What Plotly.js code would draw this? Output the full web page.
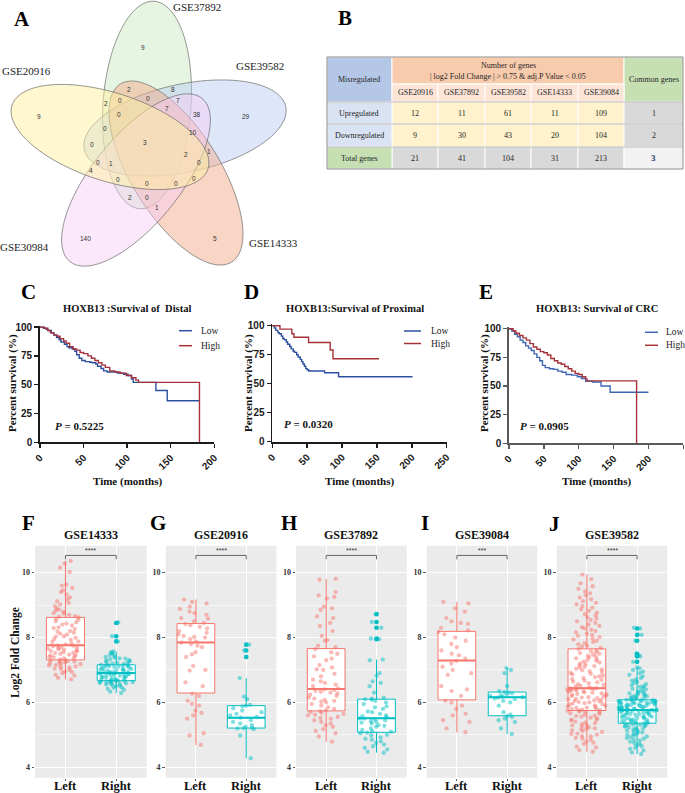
<!DOCTYPE html>
<html><head><meta charset="utf-8">
<script src="https://cdn.plot.ly/plotly-3.0.1.min.js"></script>
<style>body{margin:0;background:#fff}#chart{width:685px;height:793px}</style>
</head><body><div id="chart"></div>
<script>
// ================= DATA =================
// Panel A: Venn
const vennSets = ['GSE37892','GSE39582','GSE14333','GSE30984','GSE20916'];
const vennCounts = [9,29,5,140,9,2,8,2,0,0,7,0,7,38,0,10,0,3,2,1,0,1,0,4,0,0,0,0,2,0,1];
// Panel B: table
const tableDatasets = ['GSE20916','GSE37892','GSE39582','GSE14333','GSE39084'];
const upregulated = [12,11,61,11,109];
const downregulated = [9,30,43,20,104];
const totalGenes = [21,41,104,31,213];
const commonGenes = [1,2,3];
// Panels C-E: Kaplan-Meier (time in months, survival %)
const C_low_t = [0,4,7,9,13,16,19,22,24,28,31,33,37,40,42,45,48,52,57,60,64,66,70,73,77,89,96,101,105,107,133,146,183];
const C_low_s = [100,99,98,97,95,93,91,89,87,85,83,82,81,79,76,73,71,70,69.5,69,68,66,64,62,61,60,59,58,55,52,45,36,36];
const C_high_t = [0,5,9,12,16,20,23,27,30,34,38,42,46,50,55,59,63,67,71,75,80,86,92,99,105,110,113,183];
const C_high_s = [100,99,97,95,93,92,90,88,86,83,81,80,78,77,75,73,71,69,67,65,62,61,60,58,56,54,52,0];
const D_low_t = [0,3,5,8,10,13,15,17,20,22,25,27,30,32,35,37,40,42,44,46,48,50,52,75,95,201];
const D_low_s = [100,98,96,94,93,91,89,88,86,84,82,80,78,77,75,73,71,69,67,65,63,62,61,59.5,56,56];
const D_high_t = [0,11,28,31,52,83,87,153];
const D_high_s = [100,97,93,90,85.5,79,71.5,71.5];
const E_low_t = [0,4,8,12,16,20,24,28,32,36,40,44,48,52,58,64,70,76,82,90,98,104,110,120,132,145,200];
const E_low_s = [100,98,95,93,90,88,85,83,81,78,75,72,68,66,65,64.5,63,62,60,59.5,58,56.5,54,53.5,50,44.5,44.5];
const E_high_t = [0,6,10,15,20,25,30,35,40,45,50,55,60,65,70,75,80,85,90,95,100,105,110,112,183];
const E_high_s = [100,98,96,94,92,90,87,84,82,80,79,77,74,72,70,69,67,65,63,61,60,58,56,54.5,0];
const pValues = ['0.5225','0.0320','0.0905'];
// Panels F-J: log2 fold change, box stats [lower whisker, q1, median, q3, upper whisker]
const F_left = [6.71,6.76,6.83,6.85,6.9,6.94,6.95,7.0,7.03,7.04,7.07,7.1,7.11,7.14,7.15,7.18,7.19,7.21,7.22,7.24,7.26,7.27,7.28,7.3,7.31,
 7.32,7.35,7.36,7.39,7.4,7.42,7.45,7.46,7.47,7.5,7.52,7.53,7.55,7.58,7.59,7.6,7.63,7.64,7.66,7.68,7.7,7.71,7.73,7.75,7.76,
 7.79,7.82,7.86,7.88,7.93,7.95,7.99,8.03,8.04,8.09,8.12,8.15,8.18,8.2,8.26,8.29,8.31,8.37,8.4,8.43,8.47,8.5,8.55,8.58,8.62,
 8.64,8.66,8.7,8.74,8.75,8.79,8.83,8.86,8.9,8.97,9.02,9.07,9.12,9.18,9.24,9.33,9.4,9.45,9.53,9.6,9.63,10.02,10.15,10.28,10.36];
const F_right = [6.29,6.33,6.39,6.42,6.45,6.46,6.5,6.51,6.54,6.55,6.57,6.58,6.59,6.6,6.62,6.63,6.63,6.64,6.65,6.66,6.66,6.67,
 6.68,6.69,6.7,6.72,6.73,6.74,6.75,6.77,6.78,6.79,6.8,6.82,6.83,6.84,6.85,6.86,6.87,6.88,6.89,6.9,6.9,6.91,
 6.92,6.93,6.94,6.96,6.97,6.98,6.99,7.0,7.02,7.03,7.04,7.05,7.07,7.08,7.09,7.1,7.11,7.12,7.13,7.14,7.15,7.16,
 7.17,7.19,7.2,7.22,7.23,7.25,7.27,7.29,7.3,7.33,7.35,7.36,7.38,7.4,7.43,7.46,7.5,7.52,7.55,7.57,7.88,8.04,8.45,8.47];
const G_left = [4.69,4.98,5.05,5.5,5.6,5.68,5.75,5.9,5.96,6.05,6.2,6.27,6.5,6.62,6.98,7.0,7.12,7.4,7.48,7.55,7.7,7.75,7.8,7.84,
 7.88,7.95,8.0,8.02,8.05,8.1,8.15,8.2,8.28,8.33,8.38,8.42,8.45,8.5,8.58,8.6,8.7,8.75,8.8,8.88,8.95,9.05,9.1,9.17];
const G_right = [4.28,4.98,5.18,5.2,5.21,5.22,5.25,5.3,5.35,5.4,5.45,5.53,5.55,5.6,5.65,5.7,5.75,5.82,5.88,5.9,5.92,6.1,6.18,6.75,7.4,7.6,7.78];
const H_left = [4.79,4.95,5.05,5.12,5.18,5.25,5.3,5.35,5.4,5.45,5.5,5.52,5.55,5.6,5.62,5.65,5.68,5.7,5.73,
 5.76,5.8,5.85,5.9,5.95,6.0,6.02,6.05,6.08,6.12,6.15,6.2,6.24,6.28,6.3,6.33,6.36,6.38,6.4,
 6.43,6.5,6.55,6.6,6.65,6.7,6.8,6.88,7.0,7.02,7.08,7.15,7.3,7.35,7.42,7.5,7.55,7.64,
 7.7,7.75,7.9,7.92,8.05,8.2,8.35,8.45,8.6,8.65,8.85,8.9,8.95,9.2,9.25,9.3,9.4,9.78,9.81];
const H_right = [4.45,4.48,4.55,4.6,4.65,4.7,4.75,4.8,4.85,4.88,4.92,4.98,5.0,5.05,5.07,
 5.1,5.12,5.15,5.2,5.25,5.28,5.3,5.35,5.38,5.4,5.42,5.45,5.47,5.5,5.51,
 5.55,5.58,5.6,5.65,5.7,5.72,5.8,5.85,5.88,5.95,6.0,6.05,6.08,6.1,
 6.12,6.15,6.3,6.5,6.6,6.65,6.82,6.9,7.3,7.32,7.95,7.97,8.3,8.48,8.72];
const I_left = [5.08,5.2,5.4,5.45,5.6,5.65,5.8,5.9,6.0,6.05,6.2,6.35,6.4,6.5,6.85,6.9,7.0,7.1,7.2,7.28,
 7.35,7.45,7.5,7.6,7.7,7.8,7.9,8.0,8.1,8.17,8.22,8.3,8.42,8.45,8.5,8.6,8.8,8.9,9.05,9.1];
const I_right = [5.03,5.2,5.4,5.45,5.5,5.55,5.58,5.62,5.7,5.9,6.0,6.05,6.1,6.12,6.15,6.16,6.18,6.2,6.22,6.25,6.28,6.3,6.32,6.35,6.5,6.9,7.0,7.06];
const J_left = [4.48,4.53,4.61,4.64,4.72,4.76,4.79,4.85,4.88,4.91,4.95,4.96,5.01,5.03,5.04,5.09,5.12,5.14,5.17,5.19,5.2,5.23,5.26,5.29,5.3,5.33,5.36,5.38,5.41,5.44,5.46,5.47,5.51,5.53,5.56,5.58,5.59,5.62,5.65,5.66,5.68,5.71,5.72,5.74,5.75,
 5.76,5.78,5.79,5.81,5.83,5.84,5.86,5.88,5.9,5.91,5.93,5.95,5.96,5.98,6.0,6.01,6.03,6.05,6.06,6.08,6.1,6.11,6.13,6.15,6.16,6.18,6.2,6.21,6.23,6.25,6.26,6.28,6.3,6.31,6.33,6.34,6.36,6.37,6.39,6.4,6.41,6.42,6.43,6.43,6.44,
 6.46,6.49,6.51,6.54,6.56,6.59,6.62,6.64,6.67,6.7,6.72,6.75,6.78,6.8,6.83,6.86,6.88,6.91,6.94,6.96,6.99,7.02,7.04,7.07,7.1,7.12,7.15,7.18,7.2,7.23,7.26,7.28,7.31,7.34,7.36,7.39,7.42,7.44,7.47,7.5,7.52,7.55,7.58,7.61,7.65,
 7.68,7.72,7.75,7.79,7.83,7.86,7.9,7.94,7.97,8.01,8.05,8.08,8.12,8.16,8.2,8.24,8.28,8.32,8.36,8.4,8.45,8.5,8.54,8.58,8.63,8.68,8.72,8.77,8.82,8.87,8.92,8.97,9.02,9.07,9.12,9.18,9.23,9.3,9.36,9.42,9.5,9.58,9.67,9.8,9.94];
const J_right = [4.41,4.46,4.52,4.57,4.6,4.65,4.68,4.72,4.75,4.79,4.82,4.85,4.88,4.9,4.93,4.95,4.98,5.0,5.02,5.04,5.07,5.09,5.11,5.13,5.15,5.17,5.19,5.21,5.23,5.25,5.27,5.28,5.3,5.31,5.32,5.33,5.35,5.36,
 5.37,5.38,5.39,5.41,5.42,5.43,5.45,5.46,5.47,5.49,5.5,5.51,5.52,5.54,5.55,5.56,5.57,5.59,5.6,5.61,5.62,5.63,5.64,5.66,5.67,5.68,5.69,5.7,5.71,5.72,5.73,5.74,5.74,5.75,5.76,5.76,5.77,5.77,
 5.78,5.79,5.8,5.8,5.81,5.82,5.83,5.84,5.85,5.86,5.86,5.87,5.88,5.89,5.9,5.91,5.92,5.93,5.94,5.94,5.95,5.96,5.97,5.98,5.99,6.0,6.0,6.01,6.02,6.03,6.04,6.04,6.05,6.06,6.06,6.07,6.08,6.08,
 6.1,6.12,6.14,6.15,6.17,6.19,6.2,6.22,6.24,6.26,6.28,6.3,6.32,6.34,6.37,6.4,6.42,6.45,6.48,6.5,6.53,6.56,6.6,6.63,6.67,6.7,6.75,6.8,6.85,6.9,6.95,7.0,7.05,7.08,7.25,7.42,7.45,7.5,7.9,8.08,8.1,8.28,8.3];
const statsF_left = [6.71,7.31,7.76,8.62,10.36], statsF_right = [6.29,6.67,6.91,7.16,7.57];
const statsG_left = [4.69,6.29,7.85,8.43,9.17], statsG_right = [4.28,5.21,5.53,5.90,6.75];
const statsH_left = [4.79,5.74,6.41,7.66,9.81], statsH_right = [4.45,5.08,5.51,6.10,7.32];
const statsI_left = [5.08,6.08,7.29,8.19,9.10], statsI_right = [5.03,5.59,6.16,6.32,7.06];
const statsJ_left = [4.48,5.75,6.44,7.65,9.94], statsJ_right = [4.41,5.36,5.77,6.08,7.08];
const outF_right = [7.88,8.04,8.45];
const outG_right = [7.4,7.6,7.78];
const outH_right = [7.95,7.97,8.3,8.48,8.72];
const outJ_right = [7.25,7.42,7.45,7.5,7.9,8.08,8.28];
const boxTitles = ['GSE14333','GSE20916','GSE37892','GSE39084','GSE39582'];
const sigLabels = ['****','****','****','***','****'];
const groupLabels = ['Left','Right'];

// ================= LAYOUT HELPERS =================
const W = 685, H = 793;
const px = v => v / W, py = v => 1 - v / H;
const SERIF = 'Liberation Serif, Times New Roman, serif';
const SANS = 'Liberation Sans, Arial, sans-serif';
const annotations = [], shapes = [], traces = [];
const layout = {width: W, height: H, margin: {l:0, r:0, t:0, b:0}, paper_bgcolor: 'white',
  plot_bgcolor: 'rgba(0,0,0,0)', showlegend: false, boxmode: 'overlay', annotations, shapes};
function txt(text, x, y, font, opt) {
  annotations.push(Object.assign({text, x: px(x), y: py(y), xref: 'paper', yref: 'paper', showarrow: false,
    xanchor: 'center', yanchor: 'middle', font}, opt || {}));
}
const fSerif = (size, bold, color) => ({family: SERIF, size, color: color || '#111', weight: bold ? 'bold' : 'normal'});
function prect(x0, y0, x1, y1, fill, lc, lw) {
  shapes.push({type: 'rect', xref: 'paper', yref: 'paper', x0: px(x0), x1: px(x1), y0: py(y1), y1: py(y0),
    fillcolor: fill, line: {color: lc || 'white', width: lw == null ? 1 : lw}, layer: 'above'});
}
function pline(x0, y0, x1, y1, color, w) {
  shapes.push({type: 'line', xref: 'paper', yref: 'paper', x0: px(x0), x1: px(x1), y0: py(y0), y1: py(y1),
    line: {color, width: w}, layer: 'above'});
}

// panel letters
[['A',22,19],['B',345,18],['C',28,292],['D',251,292],['E',486,292],['F',28,523],['G',158,523],['H',289,523],['I',425,523],['J',554,524]]
  .forEach(l => txt(l[0], l[1], l[2], fSerif(21, true, '#000')));

// ================= A: VENN =================
function ellipsePath(cx, cy, a, b, deg) {
  const r = deg * Math.PI / 180; let d = '';
  for (let i = 0; i <= 90; i++) {
    const t = i / 90 * 2 * Math.PI;
    const x = cx + a * Math.cos(t) * Math.cos(r) - b * Math.sin(t) * Math.sin(r);
    const y = cy + a * Math.cos(t) * Math.sin(r) + b * Math.sin(t) * Math.cos(r);
    d += (i ? 'L' : 'M') + px(x).toFixed(5) + ',' + py(y).toFixed(5);
  }
  return d + 'Z';
}
const vennGeom = [ // cx, cy, a, b, angle, fill   (order = vennSets)
  [147,105,104,44,-86,'rgba(200,232,188,0.45)'],
  [185,128,103,44,-12,'rgba(185,202,245,0.47)'],
  [176,173,105,44,58,'rgba(242,172,140,0.5)'],
  [136,180,105,44,-51,'rgba(246,205,246,0.45)'],
  [110,137,103,44,18,'rgba(255,240,160,0.5)']
];
vennGeom.forEach(g => shapes.push({type: 'path', xref: 'paper', yref: 'paper', path: ellipsePath(g[0], g[1], g[2], g[3], g[4]),
  fillcolor: g[5], line: {color: '#6a6a6a', width: 0.7}, layer: 'above'}));
const vennLabelPos = [[197,7],[260,66],[273,243],[24,247],[26,71]];
vennSets.forEach((s, i) => txt(s, vennLabelPos[i][0], vennLabelPos[i][1], fSerif(11, false, '#222')));
const vennCountPos = [[143,47],[246,117],[215,238],[85,238],[39,116],[129,90],[173,90],[106,103],[120,100],[148,99],
  [178,100],[119,114],[167,109],[197,114],[105,128],[193,132],[92,144],[145,143],[186,154],[209,152],[98,162],
  [111,163],[199,162],[91,170],[118,179],[147,183],[176,183],[194,178],[130,197],[147,197],[157,207]];
vennCounts.forEach((c, i) => txt(String(c), vennCountPos[i][0], vennCountPos[i][1], {family: SANS, size: 6.5, color: '#333'}));

// ================= B: TABLE =================
const tx = [327,392,438,485,531,578,624,683];
const ty = [57,84,102,124,147,169];
const ccol = i => (tx[i] + tx[i+1]) / 2, crow = j => (ty[j] + ty[j+1]) / 2;
const tFont = fSerif(8, false, '#262626');
prect(tx[0], ty[0], tx[1], ty[2], '#b4c7e7');
prect(tx[1], ty[0], tx[6], ty[1], '#f8cbad');
prect(tx[6], ty[0], tx[7], ty[2], '#c6e0b4');
for (let i = 1; i <= 5; i++) {
  prect(tx[i], ty[1], tx[i+1], ty[2], '#fce4d6');
  prect(tx[i], ty[2], tx[i+1], ty[3], '#fff2cc');
  prect(tx[i], ty[3], tx[i+1], ty[4], '#fff2cc');
  prect(tx[i], ty[4], tx[i+1], ty[5], '#d9d9d9');
}
prect(tx[0], ty[2], tx[1], ty[3], '#dae3f3');
prect(tx[0], ty[3], tx[1], ty[4], '#dae3f3');
prect(tx[0], ty[4], tx[1], ty[5], '#c6e0b4');
prect(tx[6], ty[2], tx[7], ty[3], '#d9d9d9');
prect(tx[6], ty[3], tx[7], ty[4], '#d9d9d9');
prect(tx[6], ty[4], tx[7], ty[5], '#f2f2f2');
[ty[2], ty[3], ty[4]].forEach(y => pline(tx[0], y, tx[7], y, '#a6a6a6', 0.8));
prect(tx[0], ty[0], tx[7], ty[5], 'rgba(0,0,0,0)', '#8c8c8c', 1);
txt('Misregulated', ccol(0), (ty[0]+ty[2])/2, tFont);
txt('Common genes', ccol(6), (ty[0]+ty[2])/2, tFont);
txt('Number of genes', (tx[1]+tx[6])/2, 65.5, tFont);
txt('| log2 Fold Change | &gt; 0.75 &amp; adj.P Value &lt; 0.05', (tx[1]+tx[6])/2, 76, tFont);
tableDatasets.forEach((d, i) => {
  txt(d, ccol(i+1), crow(1), tFont);
  txt(String(upregulated[i]), ccol(i+1), crow(2), tFont);
  txt(String(downregulated[i]), ccol(i+1), crow(3), tFont);
  txt(String(totalGenes[i]), ccol(i+1), crow(4), tFont);
});
txt('Upregulated', ccol(0), crow(2), tFont);
txt('Downregulated', ccol(0), crow(3), tFont);
txt('Total genes', ccol(0), crow(4), tFont);
txt(String(commonGenes[0]), ccol(6), crow(2), tFont);
txt(String(commonGenes[1]), ccol(6), crow(3), tFont);
txt(String(commonGenes[2]), ccol(6), crow(4), fSerif(9, true, '#1f3864'));

// ================= C-E: SURVIVAL =================
const BLUE = '#2d4f9f', RED = '#a5323a';
const survPanels = [
  {n: 1, title: 'HOXB13 :Survival of  Distal', xr: 200, xt: [0,50,100,150,200], dx: [40,214.3], dy: [325.7,442.3],
   low: [C_low_t, C_low_s], high: [C_high_t, C_high_s], tc: 127, yt: 12, leg: [179,192,199,330.7,345.7], pp: [53,425.7], ax: '#1a1a1a', blue: BLUE},
  {n: 2, title: 'HOXB13:Survival of Proximal', xr: 250, xt: [0,50,100,150,200,250], dx: [272.3,446.7], dy: [324.3,441.7],
   low: [D_low_t, D_low_s], high: [D_high_t, D_high_s], tc: 355, yt: 248, leg: [404,421,429,331,343.5], pp: [282,424.3], ax: '#1a1a1a', blue: BLUE},
  {n: 3, title: 'HOXB13: Survival of CRC', xr: 250, xt: [0,50,100,150,200,250], dx: [509,683.3], dy: [327.3,443.3],
   low: [E_low_t, E_low_s], high: [E_high_t, E_high_s], tc: 597, yt: 484, leg: [645,658,664,332.3,345.3], pp: [518,425.7], ax: '#5a5a5a', blue: '#3d66b3'}
];
survPanels.forEach((p, k) => {
  const xa = 'xaxis' + (p.n === 1 ? '' : p.n), ya = 'yaxis' + (p.n === 1 ? '' : p.n);
  const xid = 'x' + (p.n === 1 ? '' : p.n), yid = 'y' + (p.n === 1 ? '' : p.n);
  const tickFont = {family: SANS, size: 10, color: '#1a1a1a', weight: 'bold'};
  layout[xa] = {domain: [px(p.dx[0]), px(p.dx[1])], range: [0, p.xr], tickvals: p.xt, tickangle: -45, ticks: 'outside',
    ticklen: 4, tickwidth: 1.5, tickcolor: p.ax, showline: true, linewidth: 1.8, linecolor: p.ax, showgrid: false,
    zeroline: false, tickfont: tickFont, anchor: yid, fixedrange: true};
  layout[ya] = {domain: [py(p.dy[1]), py(p.dy[0])], range: [0, 101.2], tickvals: [0,25,50,75,100], ticks: 'outside',
    ticklen: 4, tickwidth: 1.5, tickcolor: p.ax, showline: true, linewidth: 1.8, linecolor: p.ax, showgrid: false,
    zeroline: false, tickfont: tickFont, anchor: xid, fixedrange: true};
  traces.push({type: 'scatter', mode: 'lines', x: p.low[0], y: p.low[1], line: {shape: 'hv', color: p.blue, width: 1.4}, xaxis: xid, yaxis: yid, hoverinfo: 'skip'});
  traces.push({type: 'scatter', mode: 'lines', x: p.high[0], y: p.high[1], line: {shape: 'hv', color: RED, width: 1.4}, xaxis: xid, yaxis: yid, hoverinfo: 'skip'});
  txt(p.title, p.tc, 308, fSerif(10.5, true, '#111'));
  txt('Percent survival (%)', p.yt, 383, fSerif(11, true, '#111'), {textangle: -90});
  txt('Time (months)', (p.dx[0] + p.dx[1]) / 2, 481, fSerif(11, true, '#111'));
  txt('<i>P</i> = ' + pValues[k], p.pp[0], p.pp[1], fSerif(11, true, '#111'), {xanchor: 'left'});
  pline(p.leg[0], p.leg[3], p.leg[1], p.leg[3], p.blue, 1.5);
  pline(p.leg[0], p.leg[4], p.leg[1], p.leg[4], RED, 1.5);
  txt('Low', p.leg[2], p.leg[3], fSerif(9.5, false, '#222'), {xanchor: 'left'});
  txt('High', p.leg[2], p.leg[4], fSerif(9.5, false, '#222'), {xanchor: 'left'});
});

// ================= F-J: BOXPLOTS =================
const LC = '#F8766D', RC = '#00BFC4';
const LCA = 'rgba(248,118,109,0.5)', RCA = 'rgba(0,191,196,0.5)';
const boxPanels = [
  {d: [F_left, F_right], s: [statsF_left, statsF_right], o: [[], outF_right], dom: [35,146.7]},
  {d: [G_left, G_right], s: [statsG_left, statsG_right], o: [[], outG_right], dom: [165.7,276.4]},
  {d: [H_left, H_right], s: [statsH_left, statsH_right], o: [[], outH_right], dom: [296,406.7]},
  {d: [I_left, I_right], s: [statsI_left, statsI_right], o: [[], []], dom: [426.7,537.3]},
  {d: [J_left, J_right], s: [statsJ_left, statsJ_right], o: [[], outJ_right], dom: [556.7,667.3]}
];
const yTop = 545.7, yBot = 777.7, yRange = [3.68, 10.83];
boxPanels.forEach((p, k) => {
  const n = 4 + k, xid = 'x' + n, yid = 'y' + n;
  layout['xaxis' + n] = {domain: [px(p.dom[0]), px(p.dom[1])], range: [0.4, 2.6], tickvals: [1, 2], showticklabels: false,
    showgrid: true, gridcolor: 'white', gridwidth: 1.2, zeroline: false, ticks: 'outside', ticklen: 2.5, tickwidth: 0.8,
    tickcolor: '#333', showline: false, anchor: yid, fixedrange: true};
  layout['yaxis' + n] = {domain: [py(yBot), py(yTop)], range: yRange, tickvals: [4, 6, 8, 10], showgrid: true,
    gridcolor: 'white', gridwidth: 1.2, minor: {tickvals: [5, 7, 9], showgrid: true, gridcolor: 'white', gridwidth: 0.55, ticks: ''},
    zeroline: false, ticks: 'outside', ticklen: 2.5, tickwidth: 0.8, tickcolor: '#333', showline: false,
    tickfont: fSerif(8, true, '#333'), anchor: xid, fixedrange: true};
  shapes.push({type: 'rect', xref: xid + ' domain', yref: yid + ' domain', x0: 0, x1: 1, y0: 0, y1: 1,
    fillcolor: '#EBEBEB', line: {width: 0}, layer: 'below'});
  [0, 1].forEach(g => {
    const s = p.s[g], col = g ? RC : LC;
    traces.push({type: 'box', orientation: 'v', x: [g + 1], lowerfence: [s[0]], q1: [s[1]], median: [s[2]], q3: [s[3]], upperfence: [s[4]],
      width: 0.75, boxpoints: false, fillcolor: 'white', line: {color: col, width: 1}, whiskerwidth: 0,
      xaxis: xid, yaxis: yid, hoverinfo: 'skip'});
  });
  [0, 1].forEach(g => {
    const s = p.s[g], col = g ? RC : LC;
    shapes.push({type: 'line', xref: xid, yref: yid, x0: g + 1 - 0.375, x1: g + 1 + 0.375, y0: s[2], y1: s[2],
      line: {color: col, width: 2}, layer: 'above'});
  });
  [0, 1].forEach(g => {
    traces.push({type: 'box', y: p.d[g], x0: g + 1, width: 0.78, boxpoints: 'all', jitter: 1, pointpos: 0,
      marker: {color: g ? RCA : LCA, size: 4.3}, line: {width: 0, color: 'rgba(0,0,0,0)'}, fillcolor: 'rgba(0,0,0,0)',
      whiskerwidth: 0, xaxis: xid, yaxis: yid, hoverinfo: 'skip'});
    if (p.o[g].length) traces.push({type: 'scatter', mode: 'markers', x: p.o[g].map(() => g + 1), y: p.o[g],
      marker: {color: g ? RC : LC, size: 4.6}, xaxis: xid, yaxis: yid, hoverinfo: 'skip'});
    annotations.push({text: groupLabels[g], x: g + 1, y: py(785.5), xref: xid, yref: 'paper', showarrow: false,
      font: fSerif(12.5, true, '#111'), xanchor: 'center', yanchor: 'middle'});
  });
  // significance bracket
  shapes.push({type: 'path', xref: xid, yref: yid, path: 'M1,10.41 L1,10.53 L2,10.53 L2,10.41',
    line: {color: '#444', width: 0.8}, layer: 'above'});
  annotations.push({text: sigLabels[k], x: 1.5, y: 10.69, xref: xid, yref: yid, showarrow: false,
    font: {family: SANS, size: 7, color: '#333'}, xanchor: 'center', yanchor: 'middle'});
  txt(boxTitles[k], (p.dom[0] + p.dom[1]) / 2, 535, fSerif(12, true, '#111'));
});
txt('Log2 Fold Change', 15, 653, fSerif(11.5, true, '#111'), {textangle: -90});

Plotly.newPlot('chart', traces, layout, {displayModeBar: false, staticPlot: true});
</script></body></html>
